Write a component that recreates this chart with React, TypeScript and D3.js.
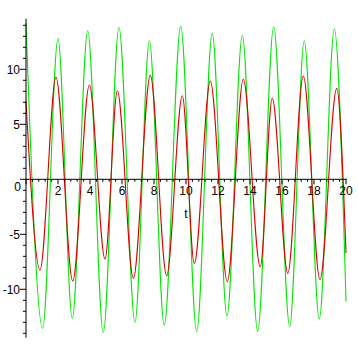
import React from "react";
import * as d3 from "d3";

// extrema (t, value)
const greenT = [0, 1.04, 2.0, 2.89, 3.86, 4.83, 5.81, 6.81, 7.71, 8.64, 9.67, 10.67, 11.64, 12.56, 13.52, 14.48, 15.48, 16.48, 17.39, 18.33, 19.27, 20];
const greenV = [14.2, -13.55, 12.8, -12.64, 13.5, -13.95, 13.8, -13.0, 12.6, -13.25, 13.9, -13.85, 13.27, -12.43, 13.1, -13.8, 13.87, -13.4, 12.6, -12.7, 13.66, -11.1];
const redT = [0, 0.875, 1.875, 2.92, 3.96, 4.94, 5.71, 6.71, 7.77, 8.79, 9.77, 10.52, 11.52, 12.58, 13.58, 14.64, 15.39, 16.36, 17.33, 18.375, 19.42, 20];
const redV = [7.1, -8.25, 9.27, -9.25, 8.57, -7.25, 8.05, -9.0, 9.45, -8.76, 7.6, -7.64, 8.94, -9.3, 9.09, -7.95, 7.36, -8.55, 9.39, -9.1, 8.27, -6.7];

const xTickLabels = [2, 4, 6, 8, 10, 12, 14, 16, 18, 20];
const yTickLabels = [-10, -5, 0, 5, 10];
const xLabel = "t";

export default function App() {
  const W = 358, H = 358;
  const x = d3.scaleLinear().domain([0, 20]).range([26, 346]);
  const y = d3.scaleLinear().domain([0, 10]).range([179.3, 69.3]);
  const line = d3
    .line<number>()
    .x((d) => x(d))
    .curve(d3.curveMonotoneX);

  const mk = (ts: number[], vs: number[]) =>
    d3
      .line<[number, number]>()
      .x((d) => x(d[0]))
      .y((d) => y(d[1]))
      .curve(d3.curveMonotoneX)(ts.map((t, i) => [t, vs[i]] as [number, number])) || "";

  const yMinor = d3.range(-14, 15, 1);
  const xMinor = d3.range(0, 20.01, 0.4);
  const font = "'Liberation Sans', Arial, sans-serif";
  const x0 = x(0), y0 = y(0);

  return (
    <svg width={W} height={H} style={{ position: "absolute", left: 0, top: 0, background: "#fff" }}>
      <path d={mk(greenT, greenV)} fill="none" stroke="#00e600" strokeWidth={1.1} />
      <path d={mk(redT, redV)} fill="none" stroke="#d80000" strokeWidth={1.1} />
      {/* axes */}
      <line x1={x0} x2={x0} y1={y(14.6)} y2={y(-14.4)} stroke="#000" strokeWidth={1} />
      <line x1={x0} x2={x(20) + 1} y1={y0} y2={y0} stroke="#000" strokeWidth={1} />
      {yMinor.map((v) => (
        <line key={"ym" + v} x1={x0 - (v % 5 === 0 ? 6 : 3)} x2={x0} y1={y(v)} y2={y(v)} stroke="#000" strokeWidth={1} />
      ))}
      {xMinor.map((v, i) => (
        <line key={"xm" + i} x1={x(v)} x2={x(v)} y1={y0} y2={y0 + (i % 5 === 0 ? 5 : 2.5)} stroke="#000" strokeWidth={1} />
      ))}
      {yTickLabels.map((v) => (
        <text key={"yl" + v} x={v === 0 ? 21 : 20} y={v === 0 ? y(v) + 7 : y(v)} dy="0.35em" textAnchor="end" fontFamily={font} fontSize={12} fill="#000">
          {v}
        </text>
      ))}
      {xTickLabels.map((v) => (
        <text key={"xl" + v} x={x(v)} y={y0 + 16} textAnchor="middle" fontFamily={font} fontSize={12} fill="#000">
          {v}
        </text>
      ))}
      <text x={x(10)} y={218} textAnchor="middle" fontFamily={font} fontSize={12} fill="#000">
        {xLabel}
      </text>
    </svg>
  );
}
